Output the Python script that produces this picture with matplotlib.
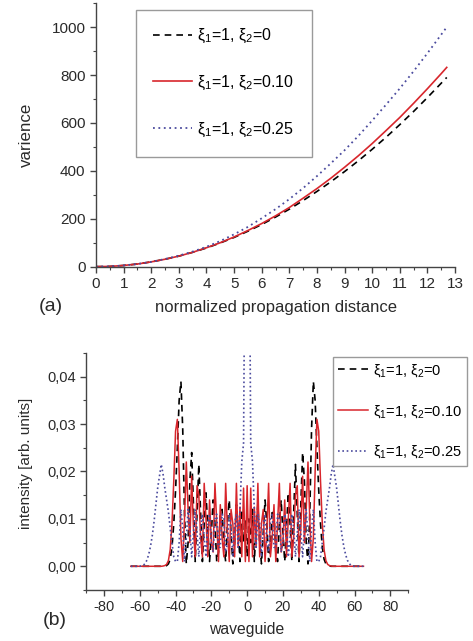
import numpy as np
import matplotlib
matplotlib.use("Agg")
import matplotlib.pyplot as plt
from matplotlib.ticker import MultipleLocator, FuncFormatter

plt.rcParams['font.family'] = ['Liberation Sans', 'DejaVu Sans']
plt.rcParams['mathtext.default'] = 'regular'
plt.rcParams['axes.unicode_minus'] = False

# (a) variance vs normalized propagation distance
z = [0, 0.5, 1, 1.5, 2, 2.5, 3, 3.5, 4, 4.5, 5, 5.5, 6, 6.5, 7, 7.5, 8,
     8.5, 9, 9.5, 10, 10.5, 11, 11.5, 12, 12.5, 12.7]
var_xi2_000 = [0, 1, 5, 11, 20, 31, 44, 60, 78, 99, 122, 148, 176, 207, 240,
               276, 314, 354, 397, 442, 490, 540, 593, 648, 706, 766, 790]
var_xi2_010 = [0, 1, 5, 11, 20, 31, 44, 60, 79, 100, 124, 151, 180, 212, 247,
               286, 326, 369, 415, 463, 514, 568, 623, 682, 743, 806, 832]
var_xi2_025 = [0, 1, 5, 11, 20, 32, 46, 63, 83, 107, 135, 166, 202, 240, 282,
               328, 378, 431, 486, 546, 610, 676, 744, 816, 891, 969, 1000]

# (b) intensity per waveguide, listed for n = 0..65 (pattern is symmetric)
n_half = list(range(0, 66))
int_xi2_000 = [0.002, 0.010, 0.005, 0.012, 0.001, 0.008, 0.013, 0.005, 0.0005, 0.007,
               0.014, 0.009, 0.001, 0.004, 0.012, 0.011, 0.003, 0.001, 0.009, 0.014,
               0.007, 0.001, 0.008, 0.0155, 0.009, 0.001, 0.011, 0.0215, 0.011, 0.001,
               0.013, 0.024, 0.018, 0.005, 0.0005, 0.011, 0.029, 0.039, 0.035, 0.025,
               0.016, 0.009, 0.004, 0.0015, 0.0005, 0.00015, 0.00004, 0, 0, 0,
               0, 0, 0, 0, 0, 0, 0, 0, 0, 0,
               0, 0, 0, 0, 0, 0]
int_xi2_010 = [0.017, 0.001, 0.0165, 0.002, 0.0125, 0.004, 0.0175, 0.002, 0.009, 0.012,
               0.001, 0.0075, 0.0175, 0.002, 0.006, 0.013, 0.001, 0.009, 0.0175, 0.003,
               0.005, 0.014, 0.002, 0.010, 0.0175, 0.002, 0.006, 0.015, 0.017, 0.002,
               0.008, 0.019, 0.005, 0.012, 0.022, 0.010, 0.001, 0.006, 0.020, 0.031,
               0.0285, 0.018, 0.009, 0.0035, 0.0012, 0.0004, 0.00015, 0.00005, 0, 0,
               0, 0, 0, 0, 0, 0, 0, 0, 0, 0,
               0, 0, 0, 0, 0, 0]
int_xi2_025 = [0.09, 0.085, 0.026, 0.022, 0.012, 0.004, 0.011, 0.009, 0.002, 0.008,
               0.011, 0.005, 0.003, 0.010, 0.011, 0.004, 0.004, 0.011, 0.010, 0.003,
               0.005, 0.011, 0.009, 0.002, 0.006, 0.011, 0.008, 0.002, 0.007, 0.012,
               0.007, 0.002, 0.008, 0.012, 0.006, 0.001, 0.008, 0.012, 0.005, 0.001,
               0.001, 0.002, 0.005, 0.008, 0.0115, 0.014, 0.0165, 0.0195, 0.0215, 0.019,
               0.0165, 0.013, 0.0095, 0.0065, 0.0042, 0.0025, 0.0013, 0.0006, 0.0002, 0.0001,
               0, 0, 0, 0, 0, 0]

labels = ['ξ$_1$=1, ξ$_2$=0', 'ξ$_1$=1, ξ$_2$=0.10', 'ξ$_1$=1, ξ$_2$=0.25']
red = '#d8262c'
blue = '#4b4b9e'
txt = '#2a2a2a'


def mirror(vals):
    return vals[:0:-1] + vals


n = [-k for k in n_half[:0:-1]] + n_half

fig = plt.figure(figsize=(4.73, 6.41), dpi=100)

# ---- panel (a)
ax1 = fig.add_axes([0.203, 0.584, 0.759, 0.411])
ax1.plot(z, var_xi2_000, color='black', lw=1.2, ls=(0, (4, 3)), label=labels[0])
ax1.plot(z, var_xi2_010, color=red, lw=1.2, label=labels[1])
ax1.plot(z, var_xi2_025, color=blue, lw=1.3, ls=(0, (1, 2)), label=labels[2])
ax1.set_xlim(0, 13)
ax1.set_ylim(0, 1100)
ax1.xaxis.set_major_locator(MultipleLocator(1))
ax1.xaxis.set_minor_locator(MultipleLocator(0.5))
ax1.yaxis.set_minor_locator(MultipleLocator(100))
ax1.set_yticks([0, 200, 400, 600, 800, 1000])
ax1.set_xlabel('normalized propagation distance', fontsize=12, color=txt)
ax1.xaxis.set_label_coords(0.5, -0.127)
ax1.set_ylabel('varience', fontsize=12.2, color=txt)
ax1.yaxis.set_label_coords(-0.173, 0.5)
ax1.text(-0.125, -0.15, '(a)', transform=ax1.transAxes, fontsize=14,
         color=txt, ha='center', va='center')
ax1.tick_params(labelsize=11, colors=txt)
leg1 = ax1.legend(loc='upper left', bbox_to_anchor=(0.1106, 0.976),
                  borderaxespad=0, fontsize=11.5, fancybox=False,
                  edgecolor='#9a9a9a', framealpha=1, handlelength=2.4,
                  handletextpad=0.35, labelspacing=1.8, borderpad=1.1)
leg1.get_frame().set_linewidth(1.0)

# ---- panel (b)
ax2 = fig.add_axes([0.182, 0.0796, 0.681, 0.3697])
ax2.plot(n, mirror(int_xi2_000), color='black', lw=1.2, ls=(0, (4, 3)), label=labels[0])
ax2.plot(n, mirror(int_xi2_010), color=red, lw=1.1, label=labels[1])
ax2.plot(n, mirror(int_xi2_025), color=blue, lw=1.2, ls=(0, (1, 1.6)), label=labels[2])
ax2.set_xlim(-90, 90)
ax2.set_ylim(-0.005, 0.045)
ax2.set_xticks([-80, -60, -40, -20, 0, 20, 40, 60, 80])
ax2.xaxis.set_minor_locator(MultipleLocator(10))
ax2.set_yticks([0, 0.01, 0.02, 0.03, 0.04])
ax2.yaxis.set_minor_locator(MultipleLocator(0.005))
ax2.yaxis.set_major_formatter(FuncFormatter(lambda v, p: f'{v:.2f}'.replace('.', ',')))
ax2.set_xlabel('waveguide', fontsize=11.3, color=txt)
ax2.xaxis.set_label_coords(0.5, -0.134)
ax2.set_ylabel('intensity [arb. units]', fontsize=11, color=txt)
ax2.yaxis.set_label_coords(-0.165, 0.535)
ax2.text(-0.097, -0.127, '(b)', transform=ax2.transAxes, fontsize=14,
         color=txt, ha='center', va='center')
ax2.tick_params(labelsize=10.5, colors=txt)
leg2 = ax2.legend(loc='upper left', bbox_to_anchor=(0.765, 0.984),
                  borderaxespad=0, fontsize=10.5, fancybox=False,
                  edgecolor='#9a9a9a', framealpha=1, handlelength=2.1,
                  handletextpad=0.35, labelspacing=1.65, borderpad=0.35)
leg2.get_frame().set_linewidth(1.0)

for ax in (ax1, ax2):
    ax.spines['top'].set_visible(False)
    ax.spines['right'].set_visible(False)
    for s in ('left', 'bottom'):
        ax.spines[s].set_color('#444444')
        ax.spines[s].set_linewidth(1.0)
    ax.tick_params(which='major', direction='out', length=4, width=1.0, color='#444444')
    ax.tick_params(which='minor', direction='out', length=2, width=0.8, color='#444444')

fig.savefig('out.png', dpi=100)
